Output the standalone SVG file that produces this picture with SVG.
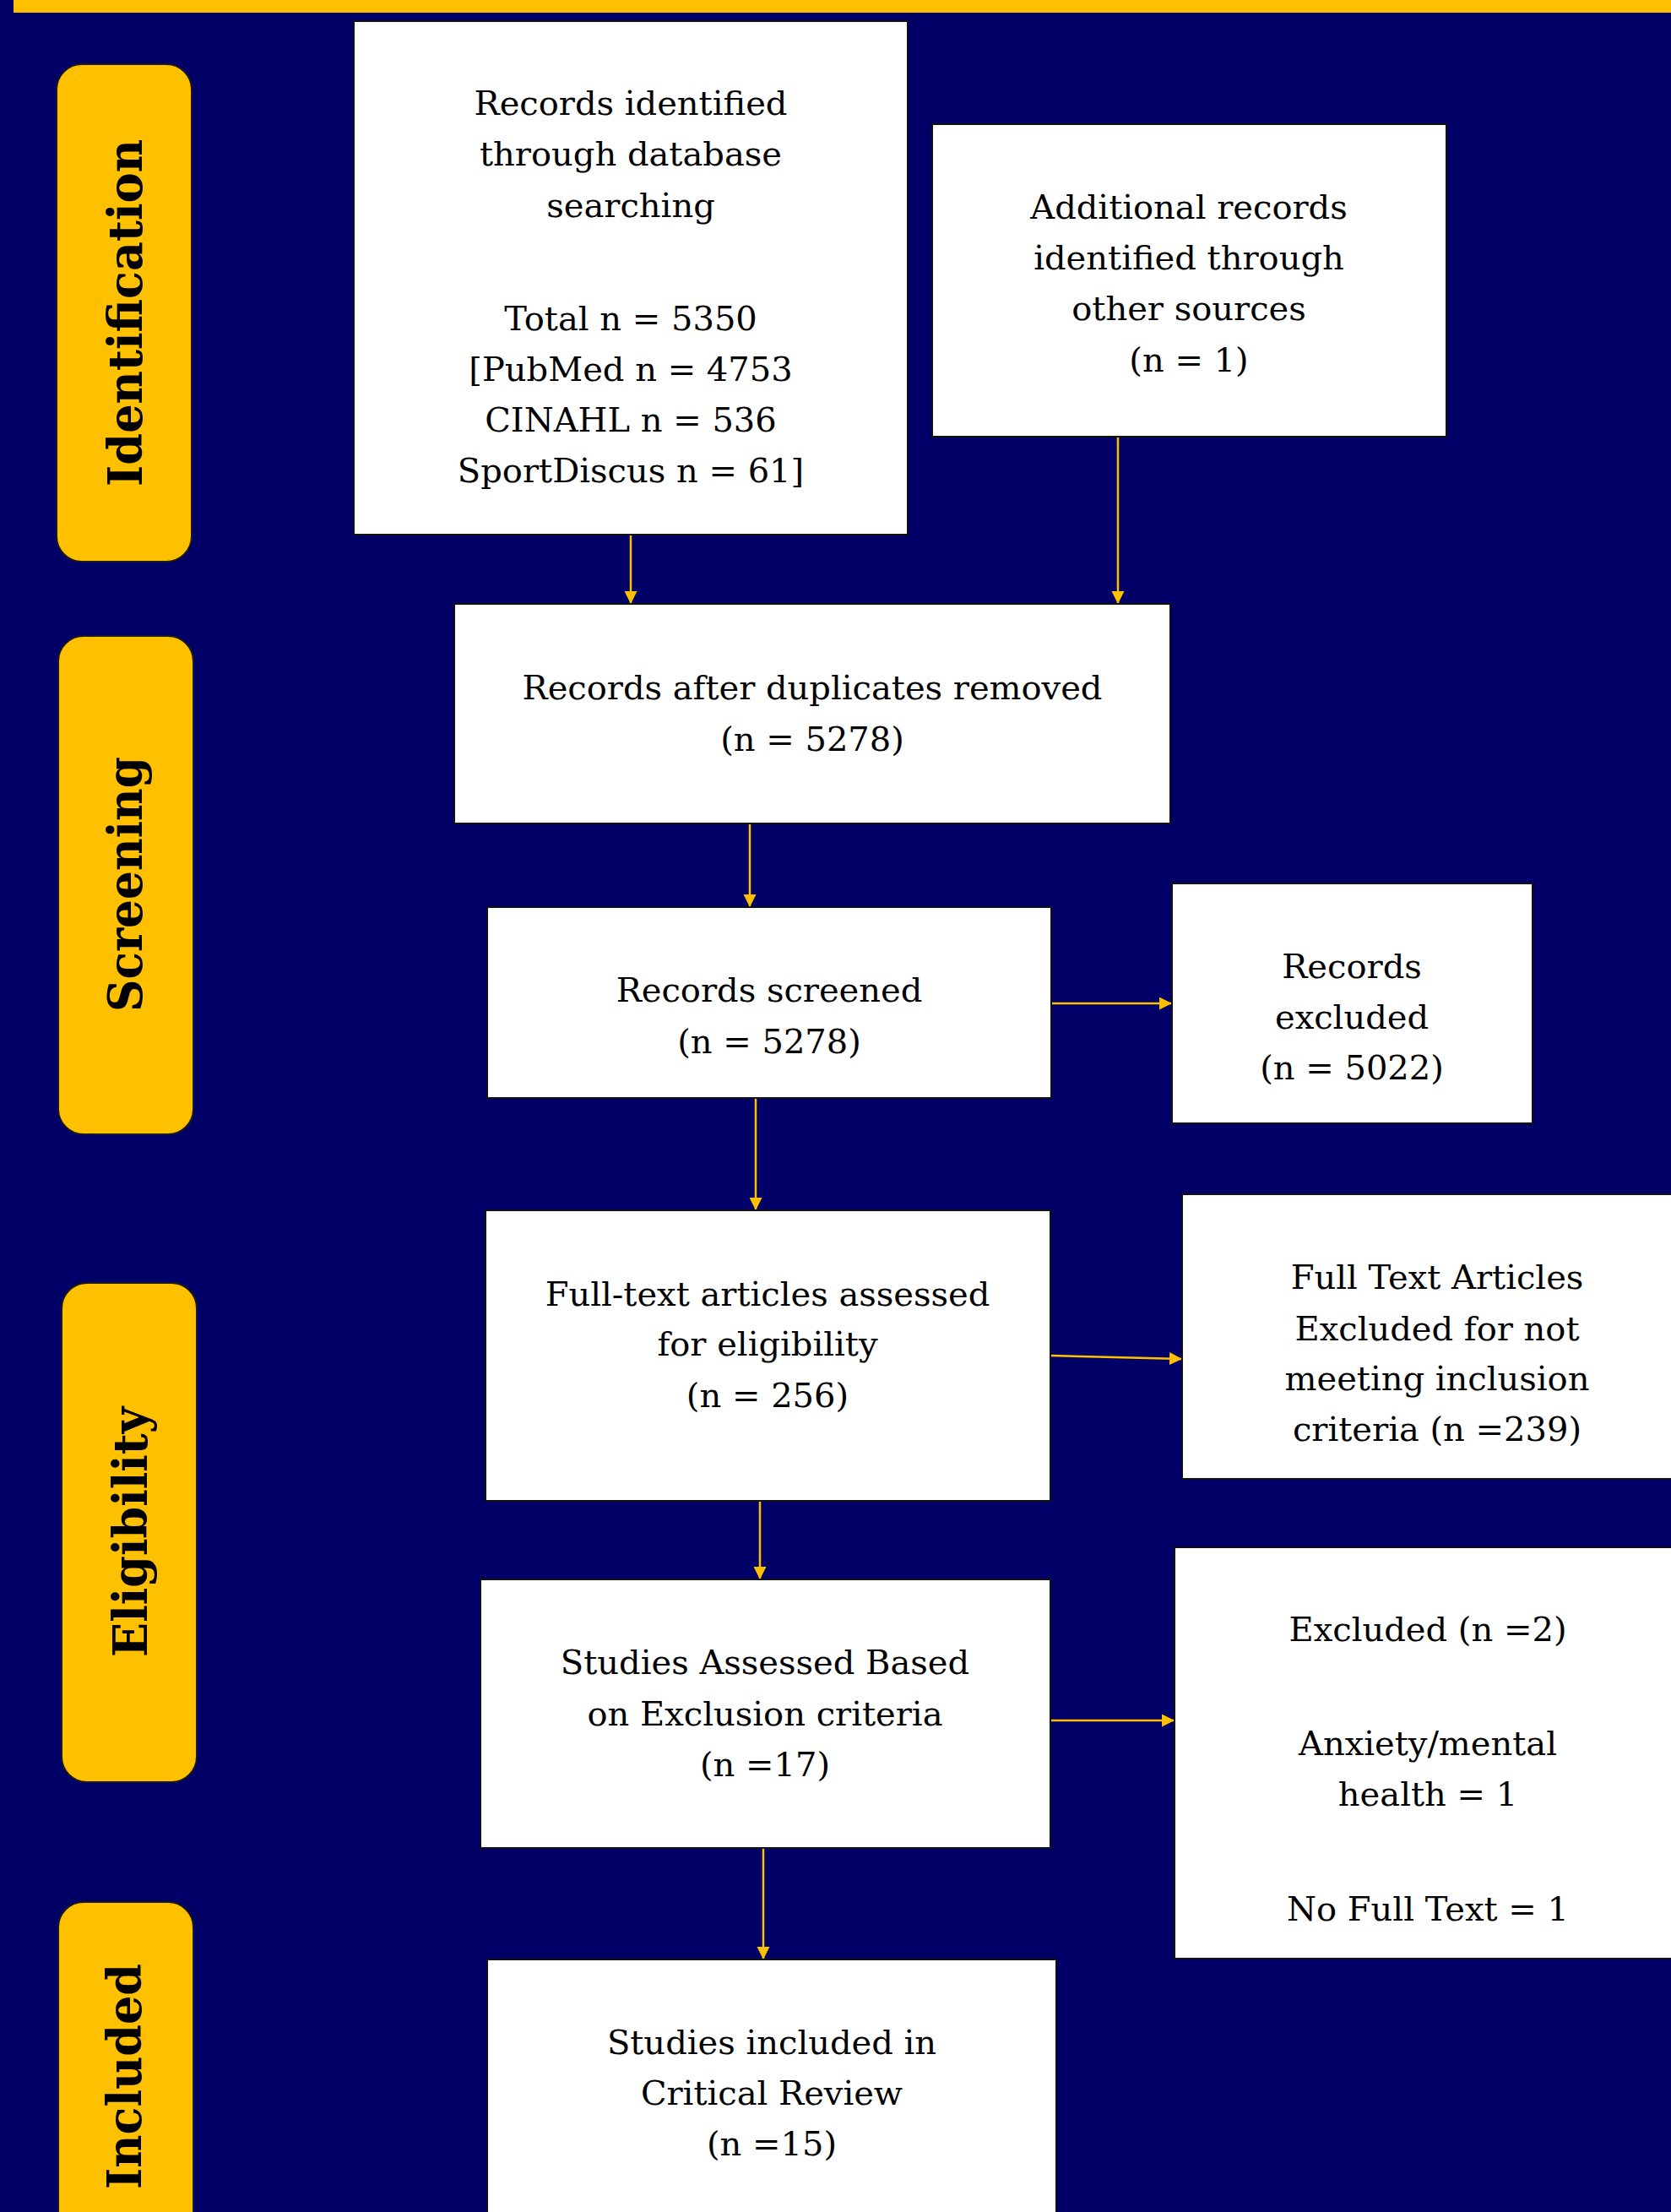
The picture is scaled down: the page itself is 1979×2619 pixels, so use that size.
<svg xmlns="http://www.w3.org/2000/svg" width="1979" height="2619" viewBox="0 0 1979 2619">
<style>
.bg{fill:#000066}
.pill{fill:#FFC000;stroke:#1a1a1a;stroke-width:2}
.box{fill:#FFFFFF;stroke:#111111;stroke-width:2}
.lbl{font-family:"DejaVu Serif","Liberation Serif",serif;font-weight:bold;font-size:56px;fill:#000;text-anchor:middle}
.t{font-family:"DejaVu Serif","Liberation Serif",serif;font-size:40px;fill:#000;text-anchor:middle}
.c{stroke:#FFC000;stroke-width:2.5;fill:none;marker-end:url(#ah)}
</style>
<defs>
<marker id="ah" markerUnits="userSpaceOnUse" markerWidth="16" markerHeight="16" refX="15" refY="7.5" orient="auto">
<path d="M0,0 L15,7.5 L0,15 Z" fill="#FFC000"/>
</marker>
</defs>
<rect class="bg" x="0" y="0" width="1979" height="2619"/>
<rect x="16" y="0" width="1963" height="15" fill="#FFC000"/>

<g id="stage-identification">
<rect class="pill" x="67" y="76" width="160" height="589" rx="30"/>
<text class="lbl" transform="translate(168,370.5) rotate(-90)" textLength="411" lengthAdjust="spacingAndGlyphs">Identification</text>
</g>
<g id="stage-screening">
<rect class="pill" x="69" y="753" width="160" height="590" rx="30"/>
<text class="lbl" transform="translate(168,1047) rotate(-90)" textLength="302" lengthAdjust="spacingAndGlyphs">Screening</text>
</g>
<g id="stage-eligibility">
<rect class="pill" x="73" y="1519" width="160" height="591" rx="30"/>
<text class="lbl" transform="translate(174,1814) rotate(-90)" textLength="296" lengthAdjust="spacingAndGlyphs">Eligibility</text>
</g>
<g id="stage-included">
<rect class="pill" x="69" y="2252" width="160" height="590" rx="30"/>
<text class="lbl" transform="translate(167,2458.5) rotate(-90)" textLength="267" lengthAdjust="spacingAndGlyphs">Included</text>
</g>

<g id="connectors">
<line class="c" x1="747" y1="634" x2="747" y2="715"/>
<line class="c" x1="1324" y1="518" x2="1324" y2="715"/>
<line class="c" x1="888" y1="976" x2="888" y2="1074"/>
<line class="c" x1="1246" y1="1188" x2="1388" y2="1188"/>
<line class="c" x1="895" y1="1301" x2="895" y2="1433"/>
<line class="c" x1="1245" y1="1605" x2="1400" y2="1609"/>
<line class="c" x1="900" y1="1778" x2="900" y2="1870"/>
<line class="c" x1="1245" y1="2037" x2="1391" y2="2037"/>
<line class="c" x1="904" y1="2189" x2="904" y2="2320"/>
</g>

<g id="node-db-search">
<rect class="box" x="419" y="25" width="656" height="608"/>
<text class="t" x="747" y="136">Records identified</text>
<text class="t" x="747" y="196">through database</text>
<text class="t" x="747" y="257">searching</text>
<text class="t" x="747" y="391">Total n = 5350</text>
<text class="t" x="747" y="451">[PubMed n = 4753</text>
<text class="t" x="747" y="511">CINAHL n = 536</text>
<text class="t" x="747" y="571">SportDiscus n = 61]</text>
</g>
<g id="node-other-sources">
<rect class="box" x="1104" y="147" width="609" height="370"/>
<text class="t" x="1408" y="259">Additional records</text>
<text class="t" x="1408" y="319">identified through</text>
<text class="t" x="1408" y="379">other sources</text>
<text class="t" x="1408" y="440">(n = 1)</text>
</g>
<g id="node-duplicates">
<rect class="box" x="538" y="715" width="848" height="260"/>
<text class="t" x="962" y="828">Records after duplicates removed</text>
<text class="t" x="962" y="889">(n = 5278)</text>
</g>
<g id="node-screened">
<rect class="box" x="577" y="1074" width="668" height="226"/>
<text class="t" x="911" y="1186">Records screened</text>
<text class="t" x="911" y="1247">(n = 5278)</text>
</g>
<g id="node-excluded">
<rect class="box" x="1388" y="1046" width="427" height="284"/>
<text class="t" x="1601" y="1158">Records</text>
<text class="t" x="1601" y="1218">excluded</text>
<text class="t" x="1601" y="1278">(n = 5022)</text>
</g>
<g id="node-fulltext">
<rect class="box" x="575" y="1433" width="669" height="344"/>
<text class="t" x="909" y="1546">Full-text articles assessed</text>
<text class="t" x="909" y="1605">for eligibility</text>
<text class="t" x="909" y="1666">(n = 256)</text>
</g>
<g id="node-fulltext-excluded">
<rect class="box" x="1400" y="1414" width="604" height="337"/>
<text class="t" x="1702" y="1526">Full Text Articles</text>
<text class="t" x="1702" y="1587">Excluded for not</text>
<text class="t" x="1702" y="1646">meeting inclusion</text>
<text class="t" x="1702" y="1706">criteria (n =239)</text>
</g>
<g id="node-exclusion-criteria">
<rect class="box" x="569" y="1870" width="675" height="318"/>
<text class="t" x="906" y="1982">Studies Assessed Based</text>
<text class="t" x="906" y="2043">on Exclusion criteria</text>
<text class="t" x="906" y="2103">(n =17)</text>
</g>
<g id="node-excluded-2">
<rect class="box" x="1391" y="1832" width="600" height="487"/>
<text class="t" x="1691" y="1943">Excluded (n =2)</text>
<text class="t" x="1691" y="2078">Anxiety/mental</text>
<text class="t" x="1691" y="2138">health = 1</text>
<text class="t" x="1691" y="2274">No Full Text = 1</text>
</g>
<g id="node-included">
<rect class="box" x="577" y="2320" width="674" height="320"/>
<text class="t" x="914" y="2432">Studies included in</text>
<text class="t" x="914" y="2492">Critical Review</text>
<text class="t" x="914" y="2552">(n =15)</text>
</g>
</svg>
